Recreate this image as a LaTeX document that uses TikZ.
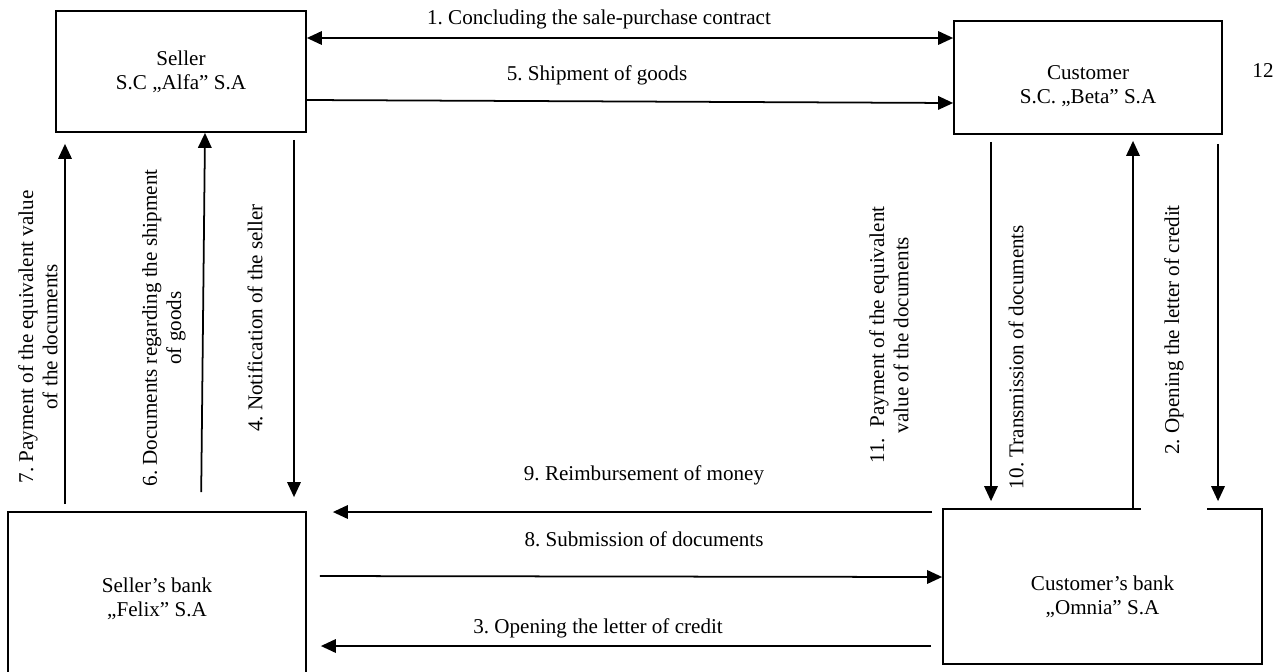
\documentclass[tikz,border=0pt]{standalone}
\usepackage{fontspec}
\setmainfont{Liberation Serif}
\usepackage{tikz}
\usetikzlibrary{arrows.meta, positioning}
\frenchspacing

\begin{document}
\begin{tikzpicture}[every node/.style={font=\fontsize{12}{13.8}\selectfont},
  >={Triangle[length=3mm, width=2.7mm]},
  party/.style={draw, line width=1pt, align=center, inner sep=0pt},
  flow/.style={line width=1pt, ->},
  vlab/.style={rotate=90, align=center}]

  \useasboundingbox (0,0) rectangle (25.76,-13.42);

  \node[party, minimum width=5cm, minimum height=2.42cm] (seller) at (3.62,-1.43)
       {Seller\\S.C „Alfa” S.A};
  \node[party, minimum width=5.36cm, minimum height=2.26cm] (cust) at (21.76,-1.55)
       {\rule{0pt}{18pt}Customer\\S.C. „Beta” S.A};
  \node[party, minimum width=5.96cm, minimum height=3.48cm] (sbank) at (3.14,-11.98)
       {Seller’s bank\\ „Felix” S.A};
  \node[party, minimum width=6.38cm, minimum height=3.1cm] (cbank) at (22.05,-11.73)
       {\rule{0pt}{20pt}Customer’s bank\\ „Omnia” S.A};
  \draw[white, line width=2pt] (cbank.north -| 22.82,0) -- (cbank.north -| 24.14,0);
  \node (num12) at (25.26,-1.42) {12};

  % seller <-> customer
  \draw[flow, <->] (seller.east |- 0,-0.76) -- (cust.west |- 0,-0.76);
  \draw[flow] (seller.east |- 0,-2.00) -- (cust.west |- 0,-2.06);
  \node[anchor=base] (l1) at (11.98,-0.48) {1. Concluding the sale-purchase contract};
  \node[anchor=base] (l5) at (11.94,-1.60) {5. Shipment of goods};

  % seller side
  \draw[flow, shorten <=1.4mm, shorten >=2.2mm] (sbank.north -| 1.30,0) -- (seller.south -| 1.30,0);
  \draw[flow, shorten <=3.8mm] (sbank.north -| 4.02,0) -- (seller.south -| 4.10,0);
  \draw[flow, shorten <=1.4mm, shorten >=2.8mm] (seller.south -| 5.88,0) -- (sbank.north -| 5.88,0);
  \node[vlab] (l7) at (0.76,-6.74) {7. Payment of the equivalent value\\of the documents};
  \node[vlab] (l6) at (3.28,-6.56) {6. Documents regarding the shipment\\of goods};
  \node[vlab] (l4) at (5.10,-6.36) {4. Notification of the seller};

  % customer side
  \draw[flow, shorten <=1.4mm, shorten >=1.4mm] (cust.south -| 19.82,0) -- (cbank.north -| 19.82,0);
  \draw[flow, shorten >=1.2mm] (cbank.north -| 22.66,0) -- (cust.south -| 22.66,0);
  \draw[flow, shorten <=1.8mm, shorten >=1.4mm] (cust.south -| 24.36,0) -- (cbank.north -| 24.36,0);
  \node[vlab] (l11) at (17.78,-6.70) {11.~ Payment of the equivalent\\value of the documents};
  \node[vlab] (l10) at (20.32,-7.14) {10. Transmission of documents};
  \node[vlab] (l2) at (23.48,-6.60) {2. Opening the letter of credit};

  % bank <-> bank
  \draw[flow, shorten <=2mm, shorten >=5.2mm] (cbank.west |- 0,-10.24) -- (sbank.east |- 0,-10.24);
  \draw[flow, shorten <=2.6mm] (sbank.east |- 0,-11.52) -- (cbank.west |- 0,-11.54);
  \draw[flow, shorten <=2.2mm, shorten >=2.8mm] (cbank.west |- 0,-12.92) -- (sbank.east |- 0,-12.92);
  \node[anchor=base] (l9) at (12.88,-9.60) {9. Reimbursement of money};
  \node[anchor=base] (l8) at (12.88,-10.92) {8. Submission of documents};
  \node[anchor=base] (l3) at (11.96,-12.66) {3. Opening the letter of credit};
\end{tikzpicture}
\end{document}
